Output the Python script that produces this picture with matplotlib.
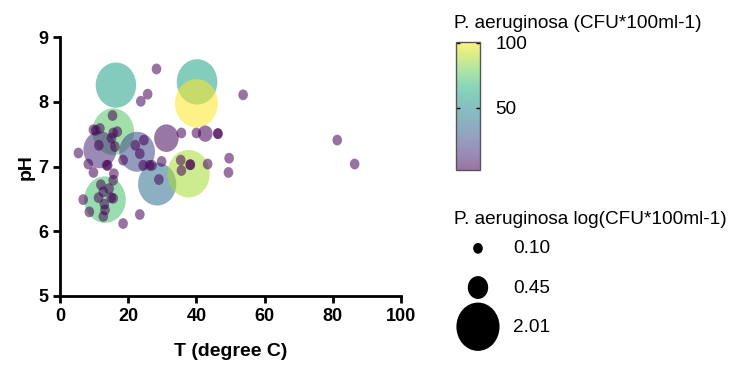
import numpy as np
import matplotlib
matplotlib.use("Agg")
import matplotlib.pyplot as plt
from matplotlib.colors import Normalize
from matplotlib.path import Path
from matplotlib.transforms import Affine2D

plt.rcParams['font.family'] = ['Liberation Sans', 'DejaVu Sans']

# -----------------------------
# data
# -----------------------------
# big / medium bubbles
big_T   = [16.4, 40.2, 40.0, 15.6, 11.7, 22.6, 31.2, 28.5, 37.7, 13.2, 42.6]
big_pH  = [8.26, 8.31, 7.98, 7.54, 7.26, 7.23, 7.44, 6.73, 6.89, 6.49, 7.51]
big_cfu = [58,   60,   101,  75,   15,   24,   4.5,  38,   88,   72,   1.7]

# small dots (all about 1.26 CFU)
dot_T  = [28.3, 23.7, 25.7, 53.7, 15.4, 9.8, 11.7, 15.6, 16.8, 11.4,
          15.1, 16.1, 5.4, 18.5, 22.1, 24.6, 23.4, 24.4, 26.3, 27.0,
          29.8, 29.0, 35.6, 40.0, 46.3, 46.3, 35.4, 35.6, 38.2, 38.2,
          43.3, 49.6, 49.4, 81.3, 86.4, 8.3, 9.8, 13.7, 15.8, 6.8,
          8.6, 12.0, 12.7, 15.6, 15.0, 13.2, 12.7, 18.5, 23.4, 15.6,
          10.5, 14.0, 11.3, 14.4, 13.0]
dot_pH = [8.51, 8.01, 8.12, 8.11, 7.79, 7.57, 7.59, 7.52, 7.54, 7.33,
          7.44, 7.31, 7.21, 7.10, 7.33, 7.41, 7.20, 7.02, 7.02, 7.02,
          7.08, 6.80, 7.52, 7.52, 7.51, 7.51, 7.10, 6.94, 7.03, 7.03,
          7.04, 7.13, 6.91, 7.41, 7.04, 7.04, 6.91, 7.02, 6.89, 6.49,
          6.30, 6.72, 6.61, 6.51, 6.52, 6.33, 6.23, 6.12, 6.26, 6.79,
          7.56, 7.02, 6.52, 6.66, 6.42]
dot_cfu = [1.26] * len(dot_T)

T = np.array(big_T + dot_T)
pH = np.array(big_pH + dot_pH)
cfu = np.array(big_cfu + dot_cfu)

legend_vals = [0.10, 0.45, 2.01]

# bubbles in the original are slightly taller than wide
stretch = 1.12
ellipse = Path.unit_circle().transformed(Affine2D().scale(1.0, stretch))
size_scale = 480 * stretch**2   # marker area per log unit

fig = plt.figure(figsize=(7.29, 3.67), dpi=100)
ax = fig.add_axes([0.0823, 0.1935, 0.4678, 0.705])

norm = Normalize(vmin=2.3, vmax=101)
sc = ax.scatter(T, pH, s=size_scale * np.log10(cfu), c=cfu, cmap='viridis',
                norm=norm, alpha=0.55, edgecolors='none', marker=ellipse)

ax.set_xlim(0, 100)
ax.set_ylim(5, 9)
ax.set_xticks([0, 20, 40, 60, 80, 100])
ax.set_yticks([5, 6, 7, 8, 9])
for s in ['top', 'right']:
  ax.spines[s].set_visible(False)
for s in ['left', 'bottom']:
  ax.spines[s].set_linewidth(2)
ax.tick_params(width=2, length=5, labelsize=13)
for lab in ax.get_xticklabels() + ax.get_yticklabels():
  lab.set_fontweight('bold')
ax.set_xlabel("T (degree C)", fontsize=14, fontweight='bold', labelpad=13)
ax.set_ylabel("pH", fontsize=14, fontweight='bold', labelpad=2.5)

# colour bar
cax = fig.add_axes([0.6255, 0.5368, 0.0329, 0.3496])
cb = fig.colorbar(sc, cax=cax, ticks=[50, 100])
cb.outline.set_edgecolor('#555555')
cb.outline.set_linewidth(1)
cax.tick_params(direction='in', left=True, right=True, length=3, width=1,
                labelsize=13.7, pad=11)
fig.text(454 / 729, 1 - 23 / 367, "P. aeruginosa (CFU*100ml-1)",
         fontsize=13.7, va='center', ha='left')

# size legend
fig.text(454 / 729, 1 - 220 / 367, "P. aeruginosa log(CFU*100ml-1)",
         fontsize=13.7, va='center', ha='left')
handles = [ax.scatter([], [], s=size_scale * v, c='black', edgecolors='none',
                      marker=ellipse) for v in legend_vals]
leg = fig.legend(handles, ["%.2f" % v for v in legend_vals],
                 fontsize=13.7, loc='upper left',
                 bbox_to_anchor=(458 / 729, 1 - 240 / 367), frameon=False,
                 labelspacing=1.15, handletextpad=0.8, handlelength=2.1,
                 borderpad=0, borderaxespad=0, scatterpoints=1)

fig.savefig("out.png", dpi=100)
